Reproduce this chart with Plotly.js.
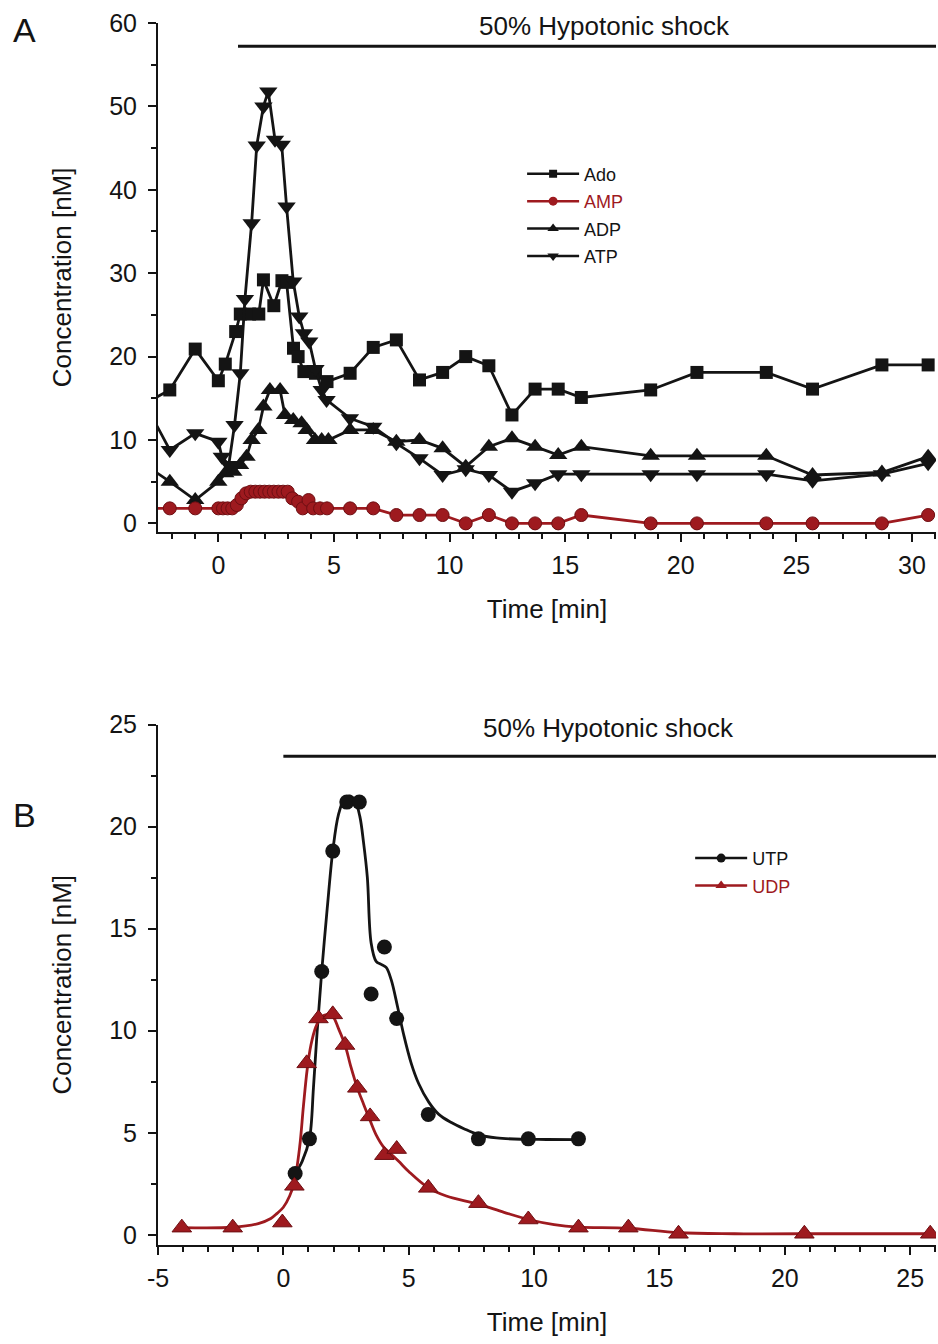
<!DOCTYPE html>
<html><head><meta charset="utf-8">
<script src="https://cdn.plot.ly/plotly-3.0.1.min.js"></script>
<style>html,body{margin:0;padding:0;background:#fff}#chart{width:938px;height:1344px}</style>
</head><body><div id="chart"></div>
<script>
// ---------- Panel A data (Time [min], Concentration [nM]) ----------
const adoT = [-3.1,-2.1,-1.0,0,0.3,0.75,0.95,1.35,1.75,1.95,2.4,2.75,2.95,3.25,3.45,3.7,4.2,4.7,5.7,6.7,7.7,8.7,9.7,10.7,11.7,12.7,13.7,14.7,15.7,18.7,20.7,23.7,25.7,28.7,30.7];
const adoV = [14.5,16.0,20.9,17.1,19.1,23.0,25.1,25.1,25.1,29.2,26.1,29.1,28.9,21.0,20.0,18.2,18.0,17.0,18.0,21.1,22.0,17.2,18.1,20.0,18.9,13.0,16.1,16.1,15.1,16.0,18.1,18.1,16.1,19.0,19.0];

const ampT = [-3.1,-2.1,-1.0,0,0.2,0.4,0.6,0.8,1.0,1.2,1.4,1.6,1.8,2.0,2.2,2.4,2.6,2.8,3.0,3.2,3.45,3.65,3.9,4.1,4.4,4.7,5.7,6.7,7.7,8.7,9.7,10.7,11.7,12.7,13.7,14.7,15.7,18.7,20.7,23.7,25.7,28.7,30.7];
const ampV = [1.8,1.8,1.8,1.8,1.8,1.8,1.8,2.2,3.0,3.6,3.8,3.8,3.8,3.8,3.8,3.8,3.8,3.8,3.8,3.0,2.6,1.8,2.8,1.8,1.8,1.8,1.8,1.8,1.0,1.0,1.0,0.0,1.0,0.0,0.0,0.0,1.0,0.0,0.0,0.0,0.0,0.0,1.0];

const adpT = [-3.1,-2.1,-1.0,0,0.3,0.65,0.94,1.22,1.44,1.73,1.95,2.23,2.67,2.88,3.24,3.6,3.82,4.18,4.47,4.76,5.7,6.7,7.7,8.7,9.7,10.7,11.7,12.7,13.7,14.7,15.7,18.7,20.7,23.7,25.7,28.7,30.7];
const adpV = [6.9,5.0,2.8,5.0,6.0,6.2,7.0,8.0,10.0,11.2,14.0,16.0,16.0,13.0,12.4,12.0,11.2,10.0,10.0,10.0,11.2,11.2,9.8,10.0,9.0,6.8,9.2,10.2,9.2,8.2,9.2,8.1,8.1,8.1,5.8,6.1,8.0];

const atpT = [-3.1,-2.1,-1.0,0,0.15,0.45,0.7,0.95,1.15,1.44,1.66,1.95,2.16,2.45,2.74,2.95,3.24,3.5,3.7,3.93,4.2,4.47,4.68,5.69,6.7,7.7,8.7,9.7,10.7,11.7,12.7,13.7,14.7,15.7,18.7,20.7,23.7,25.7,28.7,30.7];
const atpV = [14.0,8.8,10.8,9.8,8.0,7.0,11.8,18.0,26.9,36.0,45.3,50.0,51.8,46.0,45.4,38.0,29.0,24.8,22.8,21.8,18.5,16.0,14.8,12.6,11.6,9.6,7.8,5.8,6.5,5.8,3.8,4.8,5.9,5.9,5.9,5.9,5.9,5.1,5.9,7.2];

// ---------- Panel B data ----------
const utpT = [0.47,1.04,1.53,1.97,2.53,3.03,3.5,4.03,4.52,5.78,7.78,9.77,11.77];
const utpV = [3.0,4.7,12.9,18.8,21.2,21.2,11.8,14.1,10.6,5.9,4.7,4.7,4.7];
const udpT = [-4.05,-2.02,-0.04,0.44,0.93,1.40,1.97,2.46,2.95,3.46,4.03,4.52,5.78,7.78,9.77,11.77,13.76,15.76,20.78,25.8];
const udpV = [0.35,0.35,0.6,2.4,8.4,10.6,10.8,9.3,7.2,5.8,3.9,4.2,2.3,1.55,0.75,0.35,0.35,0.05,0.05,0.05];

// smooth fitted curves
const utpFitT = [0.47,0.75,1.04,1.2,1.35,1.53,1.75,1.97,2.2,2.45,2.65,2.85,3.05,3.2,3.35,3.5,3.7,3.9,4.1,4.3,4.55,4.8,5.1,5.4,5.8,6.2,6.7,7.2,7.8,8.5,9.5,10.5,11.77];
const utpFitV = [3.0,3.6,4.7,7.2,10.0,12.9,16.0,18.8,20.6,21.4,21.5,21.3,20.5,19.2,17.5,14.3,13.4,13.25,13.1,12.5,11.2,9.8,8.4,7.4,6.5,5.9,5.5,5.2,4.9,4.75,4.68,4.67,4.66];
const udpFitT = [-4.05,-2.02,-1.0,-0.5,-0.25,0,0.25,0.44,0.65,0.8,0.95,1.1,1.3,1.5,1.75,1.97,2.2,2.46,2.7,2.95,3.2,3.46,3.7,4.0,4.3,4.6,5.0,5.78,6.5,7.78,8.8,9.77,10.8,11.77,13.76,15.76,18.0,20.78,25.8];
const udpFitV = [0.35,0.37,0.55,0.8,1.05,1.35,1.9,2.6,4.3,6.3,8.1,9.3,10.2,10.65,10.8,10.7,10.1,9.3,8.2,7.2,6.4,5.6,4.9,4.3,3.95,3.6,3.1,2.3,1.9,1.5,1.1,0.75,0.5,0.38,0.32,0.1,0.05,0.05,0.05];

// tick labels for panel B time axis (plain hyphen minus, as in the original)
const timeTicksB = [-5, 0, 5, 10, 15, 20, 25];
const timeTickTextB = ['-5', '0', '5', '10', '15', '20', '25'];

const BLACK = '#141414';
const RED = '#9e1a1f';
const REDL = '#6e0f13';
const FONT = 'Liberation Sans, Arial, sans-serif';

function series(x, y, sym, size, color, ax, ay) {
  return {x: x, y: y, xaxis: ax, yaxis: ay, type: 'scatter', mode: 'lines+markers', showlegend: false,
    line: {color: color, width: 2.8},
    marker: {symbol: sym, size: size, color: color, line: {width: color === RED ? 1 : 0, color: REDL}}};
}
function legendItem(name, sym, size, color, legend, group) {
  return {x: [null], y: [null], type: 'scatter', mode: 'lines+markers', name: name, legend: legend, legendgroup: group,
    showlegend: true, xaxis: legend === 'legend' ? 'x' : 'x2', yaxis: legend === 'legend' ? 'y' : 'y2',
    line: {color: color, width: 2.5}, marker: {symbol: sym, size: size, color: color}};
}

const traces = [
  series(adoT, adoV, 'square', 13, BLACK, 'x', 'y'),
  series(adpT, adpV, 'triangle-up', 16, BLACK, 'x', 'y'),
  series(atpT, atpV, 'triangle-down', 16, BLACK, 'x', 'y'),
  series(ampT, ampV, 'circle', 13, RED, 'x', 'y'),
  {x: utpFitT, y: utpFitV, xaxis: 'x2', yaxis: 'y2', type: 'scatter', mode: 'lines', line: {color: BLACK, width: 2.8, shape: 'spline', smoothing: 1}, showlegend: false},
  {x: udpFitT, y: udpFitV, xaxis: 'x2', yaxis: 'y2', type: 'scatter', mode: 'lines', line: {color: RED, width: 2.8, shape: 'spline', smoothing: 1}, showlegend: false},
  {x: utpT, y: utpV, xaxis: 'x2', yaxis: 'y2', type: 'scatter', mode: 'markers', marker: {symbol: 'circle', size: 15, color: BLACK}, showlegend: false},
  {x: udpT, y: udpV, xaxis: 'x2', yaxis: 'y2', type: 'scatter', mode: 'markers', marker: {symbol: 'triangle-up', size: 17, color: RED, line: {width: 1, color: REDL}}, showlegend: false},
  legendItem('Ado', 'square', 8, BLACK, 'legend', 'g1'),
  legendItem('<span style="color:' + RED + '">AMP</span>', 'circle', 9, RED, 'legend', 'g2'),
  legendItem('ADP', 'triangle-up', 10, BLACK, 'legend', 'g3'),
  legendItem('ATP', 'triangle-down', 10, BLACK, 'legend', 'g4'),
  legendItem('UTP', 'circle', 9, BLACK, 'legend2', 'h1'),
  legendItem('<span style="color:' + RED + '">UDP</span>', 'triangle-up', 10, RED, 'legend2', 'h2')
];

function xax(range, anchor, extra) {
  return Object.assign({range: range, anchor: anchor, domain: [0, 1], showline: true, linecolor: BLACK, linewidth: 2,
    ticks: 'outside', ticklen: 8, tickwidth: 2, tickcolor: BLACK, tick0: 0, dtick: 5,
    minor: {dtick: 1, ticks: 'outside', ticklen: 5, tickwidth: 2, tickcolor: BLACK, showgrid: false},
    showgrid: false, zeroline: false, tickfont: {family: FONT, size: 25, color: BLACK}, ticklabelstandoff: 2,
    title: {text: 'Time [min]', font: {family: FONT, size: 26, color: BLACK}, standoff: 22}}, extra || {});
}
function yax(range, anchor, domain, dtick, mdtick) {
  return {range: range, anchor: anchor, domain: domain, showline: true, linecolor: BLACK, linewidth: 2,
    ticks: 'outside', ticklen: 8, tickwidth: 2, tickcolor: BLACK, tick0: 0, dtick: dtick,
    minor: {dtick: mdtick, ticks: 'outside', ticklen: 5, tickwidth: 2, tickcolor: BLACK, showgrid: false},
    showgrid: false, zeroline: false, tickfont: {family: FONT, size: 25, color: BLACK}, ticklabelstandoff: 6,
    title: {text: 'Concentration [nM]', font: {family: FONT, size: 26, color: BLACK}, standoff: 30}};
}

const layout = {
  width: 938, height: 1344,
  margin: {l: 158, r: 2, t: 23, b: 99},
  paper_bgcolor: '#fff', plot_bgcolor: '#fff',
  font: {family: FONT, color: BLACK},
  xaxis: xax([-2.61, 31.04], 'y'),
  yaxis: yax([-1, 60], 'x', [0.5837, 1], 10, 5),
  xaxis2: xax([-5, 26.03], 'y2', {tickmode: 'array', tickvals: timeTicksB, ticktext: timeTickTextB}),
  yaxis2: yax([-0.5, 25], 'x2', [0, 0.4259], 5, 2.5),
  legend: {x: 0.468, y: 0.8915, xanchor: 'left', yanchor: 'top', bgcolor: 'rgba(0,0,0,0)', borderwidth: 0,
    font: {family: FONT, size: 18, color: BLACK}, traceorder: 'grouped', tracegroupgap: 1, itemwidth: 52},
  legend2: {x: 0.684, y: 0.3315, xanchor: 'left', yanchor: 'top', bgcolor: 'rgba(0,0,0,0)', borderwidth: 0,
    font: {family: FONT, size: 18, color: BLACK}, traceorder: 'grouped', tracegroupgap: 1, itemwidth: 52},
  shapes: [
    {type: 'line', xref: 'x', yref: 'y', x0: 0.85, x1: 31.04, y0: 57.2, y1: 57.2, line: {color: BLACK, width: 3}},
    {type: 'line', xref: 'x2', yref: 'y2', x0: 0, x1: 26.03, y0: 23.45, y1: 23.45, line: {color: BLACK, width: 3}}
  ],
  annotations: [
    {text: '50% Hypotonic shock', xref: 'x', yref: 'y', x: 16.7, y: 59.6, showarrow: false, xanchor: 'center', yanchor: 'middle',
      font: {family: FONT, size: 26, color: BLACK}},
    {text: '50% Hypotonic shock', xref: 'x2', yref: 'y2', x: 12.95, y: 24.83, showarrow: false, xanchor: 'center', yanchor: 'middle',
      font: {family: FONT, size: 26, color: BLACK}},
    {text: 'A', xref: 'paper', yref: 'paper', x: -0.172, y: 0.9943, showarrow: false, xanchor: 'center', yanchor: 'middle',
      font: {family: FONT, size: 34, color: BLACK}},
    {text: 'B', xref: 'paper', yref: 'paper', x: -0.172, y: 0.3519, showarrow: false, xanchor: 'center', yanchor: 'middle',
      font: {family: FONT, size: 34, color: BLACK}}
  ]
};

Plotly.newPlot('chart', traces, layout, {displayModeBar: false, staticPlot: true});
</script>
</body></html>
